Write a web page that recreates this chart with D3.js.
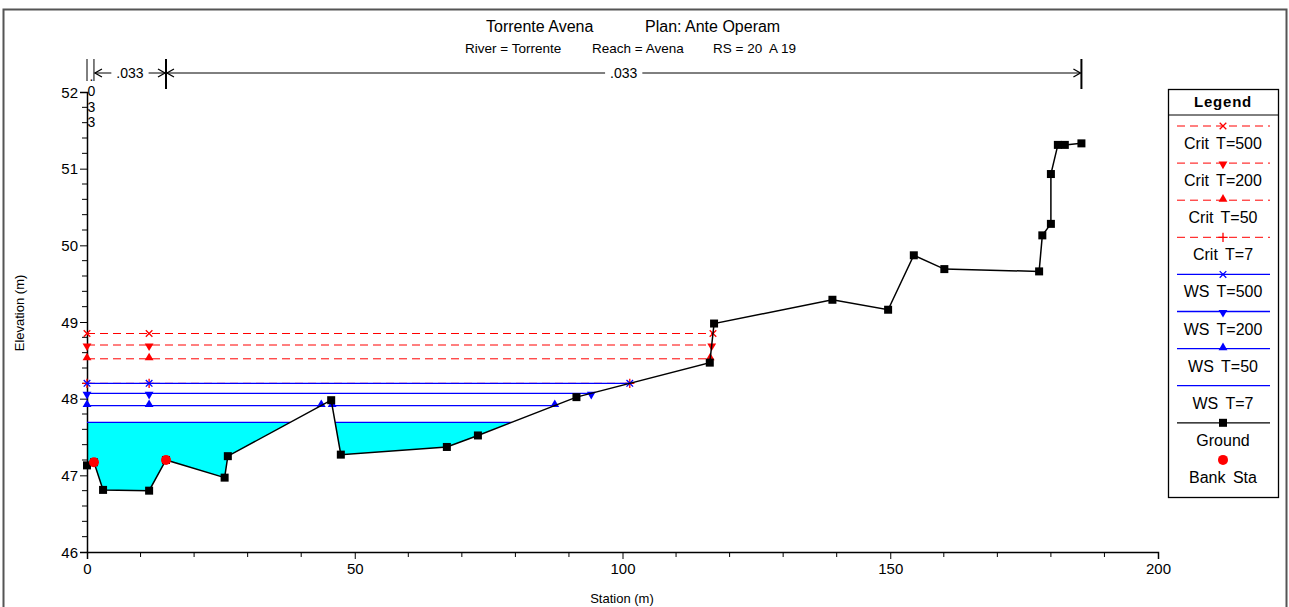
<!DOCTYPE html>
<html><head><meta charset="utf-8">
<script src="https://cdn.jsdelivr.net/npm/d3@7"></script>
<style>
html,body{margin:0;padding:0;background:#fff;}
text{font-family:"Liberation Sans",Arial,sans-serif;fill:#000;}
</style></head>
<body>
<svg id="c" width="1289" height="607"></svg>
<script>
// ---------- data ----------
const groundStation = [0, 1.3, 3.0, 11.6, 14.75, 25.7, 26.3, 45.6, 47.4, 67.2, 73.0, 91.4, 116.3, 117.1, 139.2, 149.6, 154.4, 160.1, 177.8, 178.4, 180.0, 180.0, 181.3, 182.6, 185.7];
const groundElev    = [47.13, 47.17, 46.81, 46.80, 47.20, 46.97, 47.25, 47.98, 47.27, 47.37, 47.52, 48.02, 48.47, 48.98, 49.29, 49.16, 49.87, 49.69, 49.66, 50.13, 50.28, 50.93, 51.31, 51.31, 51.33];
const bankStation = [1.3, 14.75];
const bankElev    = [47.17, 47.20];
const profileNames = ["Crit T=500", "Crit T=200", "Crit T=50", "Crit T=7", "WS T=500", "WS T=200", "WS T=50", "WS T=7"];
const profileElev  = [48.85, 48.70, 48.52, 48.20, 48.20, 48.07, 47.91, 47.69];
const profileKind  = ["crit", "crit", "crit", "crit", "ws", "ws", "ws", "ws"];
const profileMarker= ["times", "down", "up", "plus", "times", "down", "up", "none"];
const markerStation = [11.6];
const nBreaks = [0, 1.3, 14.75, 185.7];
const nValues = [".033", ".033", ".033"];
const xTicks = [0, 50, 100, 150, 200];
const yTicks = [46, 47, 48, 49, 50, 51, 52];
const legendNames = ["Crit T=500", "Crit T=200", "Crit T=50", "Crit T=7", "WS T=500", "WS T=200", "WS T=50", "WS T=7", "Ground", "Bank Sta"];

// ---------- setup ----------
const svg = d3.select("#c");
const x = d3.scaleLinear().domain([0, 200]).range([87, 1158]);
const y = d3.scaleLinear().domain([46, 52]).range([552, 92]);
const ground = groundStation.map((s, i) => [s, groundElev[i]]);

// frame
svg.append("rect").attr("x", 3.5).attr("y", 9.5).attr("width", 1283).attr("height", 620)
  .attr("fill", "none").attr("stroke", "#555").attr("stroke-width", 2);

// titles
const t1 = svg.append("g").style("font-size", "16px");
t1.append("text").attr("x", 486).attr("y", 32).text("Torrente Avena");
t1.append("text").attr("x", 645).attr("y", 32).text("Plan: Ante Operam");
const t2 = svg.append("g").style("font-size", "13.5px");
t2.append("text").attr("x", 465).attr("y", 53).text("River = Torrente");
t2.append("text").attr("x", 592).attr("y", 53).text("Reach = Avena");
t2.append("text").attr("x", 713).attr("y", 53).text("RS = 20");
t2.append("text").attr("x", 769).attr("y", 53).text("A 19");

// ---------- wet segments ----------
function wetSegments(level) {
  const segs = [];
  let cur = null;
  for (let i = 0; i < ground.length; i++) {
    const [s, e] = ground[i];
    if (i === 0) { if (e < level) cur = [s]; continue; }
    const [s0, e0] = ground[i - 1];
    if ((e0 < level) !== (e < level)) {
      const t = (level - e0) / (e - e0);
      const xs = s0 + t * (s - s0);
      if (cur) { cur.push(xs); segs.push(cur); cur = null; }
      else cur = [xs];
    }
  }
  if (cur) { cur.push(ground[ground.length - 1][0]); segs.push(cur); }
  return segs;
}

// ---------- water fill (WS T=7) ----------
const defs = svg.append("defs");
const abovePts = ground.map(d => [x(d[0]), y(d[1])]);
abovePts.push([x(ground[ground.length - 1][0]), 0], [x(0), 0]);
defs.append("clipPath").attr("id", "above").append("path").attr("d", d3.line()(abovePts) + "Z");
const wsLow = profileElev[7];
svg.append("rect").attr("clip-path", "url(#above)")
  .attr("x", x(0)).attr("y", y(wsLow)).attr("width", x(200) - x(0)).attr("height", y(46) - y(wsLow))
  .attr("fill", "#00ffff");

// ---------- axes ----------
const axG = svg.append("g").style("font-size", "15px");
const xAxis = axG.append("g").attr("transform", `translate(0,${y(46)})`)
  .call(d3.axisBottom(x).tickValues(xTicks).tickSize(7).tickPadding(4).tickFormat(d3.format("d")));
const yAxis = axG.append("g").attr("transform", `translate(${x(0)},0)`)
  .call(d3.axisLeft(y).tickValues(yTicks).tickSize(7).tickPadding(2).tickFormat(d3.format("d")));
[xAxis, yAxis].forEach(a => {
  a.select(".domain").attr("stroke", "#000").attr("stroke-width", 1.5);
  a.selectAll(".tick line").attr("stroke", "#000");
  a.selectAll("text").style("font-family", "'Liberation Sans',Arial,sans-serif").style("font-size", "15px").attr("fill", "#000");
});
yAxis.selectAll(".tick text").attr("dy", "0.35em");
// minor ticks
const xMinor = d3.range(0, 201, 10).filter(v => v % 50 !== 0);
axG.append("g").selectAll("line").data(xMinor).join("line")
  .attr("x1", d => x(d)).attr("x2", d => x(d)).attr("y1", y(46)).attr("y2", y(46) + 5).attr("stroke", "#000");
const yMinor = d3.range(46, 52.001, 0.2).filter(v => Math.abs(v - Math.round(v)) > 0.01);
axG.append("g").selectAll("line").data(yMinor).join("line")
  .attr("x1", x(0) - 5).attr("x2", x(0)).attr("y1", d => y(d)).attr("y2", d => y(d)).attr("stroke", "#000");

svg.append("text").attr("x", 622).attr("y", 603).attr("text-anchor", "middle").style("font-size", "13px").text("Station (m)");
svg.append("text").attr("transform", "translate(24,313) rotate(-90)").attr("text-anchor", "middle").style("font-size", "13px").text("Elevation (m)");

// ---------- manning n bar ----------
const nG = svg.append("g");
const barY = 73;
nBreaks.forEach((b, i) => {
  const isLong = (i > 0 && b === bankStation[1]) || i === nBreaks.length - 1;
  nG.append("line").attr("x1", x(b)).attr("x2", x(b)).attr("y1", 59).attr("y2", isLong ? 89 : 81)
    .attr("stroke", "#000").attr("stroke-width", isLong ? 2 : 1);
});
function arrowHead(px, dir) {
  nG.append("path").attr("d", `M${px + dir * 7},${barY - 4}L${px},${barY}L${px + dir * 7},${barY + 4}`)
    .attr("fill", "none").attr("stroke", "#000").attr("stroke-width", 1.3);
}
for (let i = 0; i < nValues.length; i++) {
  const a = x(nBreaks[i]), b = x(nBreaks[i + 1]);
  if (b - a < 20) {
    const chars = nValues[i].split("");
    chars.forEach((ch, k) => {
      nG.append("text").attr("x", (a + b) / 2 + 1).attr("y", 81 + k * 15.3).attr("text-anchor", "middle")
        .style("font-size", "14px").text(ch);
    });
    continue;
  }
  const mid = (a + b) / 2;
  const label = nG.append("text").attr("x", mid).attr("y", barY + 5).attr("text-anchor", "middle").style("font-size", "14px").text(nValues[i]);
  const w = label.node().getComputedTextLength();
  nG.append("line").attr("x1", a + 1).attr("x2", mid - w / 2 - 5).attr("y1", barY).attr("y2", barY).attr("stroke", "#000");
  nG.append("line").attr("x1", mid + w / 2 + 5).attr("x2", b - 1).attr("y1", barY).attr("y2", barY).attr("stroke", "#000");
  arrowHead(a + 1, 1);
  arrowHead(b - 1, -1);
}

// ---------- markers ----------
function drawMarker(g, kind, px, py, color) {
  if (kind === "none") return;
  if (kind === "times" || kind === "plus") {
    const sym = kind === "times" ? d3.symbolTimes : d3.symbolPlus;
    g.append("path").attr("d", d3.symbol(sym, 30)()).attr("transform", `translate(${px},${py})`)
      .attr("fill", "none").attr("stroke", color).attr("stroke-width", 1.3);
  } else {
    const rot = kind === "down" ? 180 : 0;
    g.append("path").attr("d", d3.symbol(d3.symbolTriangle, 34)())
      .attr("transform", `translate(${px},${py + (kind === "down" ? 1 : -1)}) rotate(${rot})`).attr("fill", color);
  }
}

// ---------- profile lines ----------
const plotG = svg.append("g");
const order = [3, 0, 1, 2, 7, 6, 5, 4];
order.forEach(i => {
  const lvl = profileElev[i];
  const crit = profileKind[i] === "crit";
  const color = crit ? "#ff0000" : "#0000ff";
  const segs = wetSegments(lvl);
  segs.forEach(sg => {
    plotG.append("line").attr("x1", x(sg[0])).attr("x2", x(sg[1])).attr("y1", y(lvl)).attr("y2", y(lvl))
      .attr("stroke", color).attr("stroke-width", crit ? 1 : 1.3).attr("stroke-dasharray", crit ? "8,5" : null);
  });
  const mk = [];
  segs.forEach(sg => { mk.push(sg[0], sg[1]); });
  markerStation.forEach(m => { if (segs.some(sg => m > sg[0] && m < sg[1])) mk.push(m); });
  mk.forEach(m => drawMarker(plotG, profileMarker[i], x(m), y(lvl), color));
});

// ---------- ground ----------
svg.append("path").datum(ground).attr("d", d3.line().x(d => x(d[0])).y(d => y(d[1])))
  .attr("fill", "none").attr("stroke", "#000").attr("stroke-width", 1.5);
svg.append("g").selectAll("rect").data(ground).join("rect")
  .attr("x", d => x(d[0]) - 4).attr("y", d => y(d[1]) - 4).attr("width", 8).attr("height", 8).attr("fill", "#000");
svg.append("g").selectAll("circle").data(bankStation).join("circle")
  .attr("cx", d => x(d)).attr("cy", (d, i) => y(bankElev[i])).attr("r", 5).attr("fill", "#ff0000");

// ---------- legend ----------
const lg = svg.append("g");
lg.append("rect").attr("x", 1168.5).attr("y", 89.5).attr("width", 110).attr("height", 408)
  .attr("fill", "#fff").attr("stroke", "#000").attr("stroke-width", 1.3);
lg.append("line").attr("x1", 1168).attr("x2", 1279).attr("y1", 115).attr("y2", 115).attr("stroke", "#000");
lg.append("text").attr("x", 1223).attr("y", 107).attr("text-anchor", "middle")
  .style("font-size", "15px").style("font-weight", "bold").style("letter-spacing", "0.8px").text("Legend");
legendNames.forEach((name, i) => {
  const ly = 126 + i * 37.1;
  if (i < 8) {
    const crit = profileKind[i] === "crit";
    const color = crit ? "#ff0000" : "#0000ff";
    lg.append("line").attr("x1", 1177).attr("x2", 1270).attr("y1", ly).attr("y2", ly)
      .attr("stroke", color).attr("stroke-width", crit ? 1 : 1.3).attr("stroke-dasharray", crit ? "8,5" : null);
    drawMarker(lg, profileMarker[i], 1223, ly, color);
  } else if (i === 8) {
    lg.append("line").attr("x1", 1177).attr("x2", 1270).attr("y1", ly).attr("y2", ly).attr("stroke", "#000").attr("stroke-width", 1.3);
    lg.append("rect").attr("x", 1219).attr("y", ly - 4).attr("width", 8).attr("height", 8).attr("fill", "#000");
  } else {
    lg.append("circle").attr("cx", 1223).attr("cy", ly).attr("r", 5).attr("fill", "#ff0000");
  }
  lg.append("text").attr("x", 1223).attr("y", ly + 23).attr("text-anchor", "middle")
    .style("font-size", "16px").style("word-spacing", "3px").text(name);
});
</script>
</body></html>
